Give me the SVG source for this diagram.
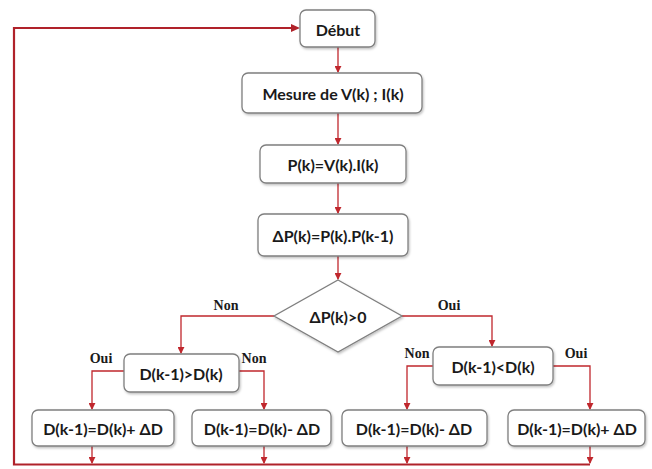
<svg xmlns="http://www.w3.org/2000/svg" width="652" height="469" viewBox="0 0 652 469">
<defs>
<marker id="ah" viewBox="0 0 8 8" refX="7" refY="4" markerWidth="7" markerHeight="7" orient="auto" markerUnits="userSpaceOnUse">
<path d="M0,0 L8,4 L0,8 z" fill="#c0272d"/>
</marker>
<filter id="sh" x="-10%" y="-10%" width="130%" height="140%">
<feDropShadow dx="1" dy="1.5" stdDeviation="1" flood-color="#000" flood-opacity="0.25"/>
</filter>
</defs>
<style>
.box{fill:#fff;stroke:#7f7f7f;stroke-width:1.3;filter:url(#sh)}
.t{font-family:Lato,"Liberation Sans",sans-serif;font-weight:bold;font-size:16px;fill:#1a1a1a;text-anchor:middle;dominant-baseline:central}
.lbl{font-family:"Liberation Serif",serif;font-weight:bold;font-size:14px;fill:#1a1a1a;text-anchor:middle}
.c{fill:none;stroke:#c0272d;stroke-width:1.3}
.cb{fill:none;stroke:#b0222a;stroke-width:2.2}
</style>
<rect width="652" height="469" fill="#fff"/>
<g id="connectors">
<path class="c" d="M338,47 V72" marker-end="url(#ah)"/>
<path class="c" d="M338,113 V144" marker-end="url(#ah)"/>
<path class="c" d="M338,183 V213" marker-end="url(#ah)"/>
<path class="c" d="M338,256 V279" marker-end="url(#ah)"/>
<path class="c" d="M274,316 H181 V353" marker-end="url(#ah)"/>
<path class="c" d="M402,316 H492 V346" marker-end="url(#ah)"/>
<path class="c" d="M124,371 H92 V409" marker-end="url(#ah)"/>
<path class="c" d="M239,371 H264 V409" marker-end="url(#ah)"/>
<path class="c" d="M433,366 H407 V409" marker-end="url(#ah)"/>
<path class="c" d="M553,366 H590 V409" marker-end="url(#ah)"/>
<path class="c" d="M92,446 V463" marker-end="url(#ah)"/>
<path class="c" d="M264,446 V463" marker-end="url(#ah)"/>
<path class="c" d="M407,446 V463" marker-end="url(#ah)"/>
<path class="c" d="M590,446 V463" marker-end="url(#ah)"/>
<path class="cb" d="M590,464.5 H14 V28 H292"/>
<path d="M291,24 L300,28 L291,32 z" fill="#b0222a"/>
<text class="lbl" x="226" y="310">Non</text>
<text class="lbl" x="449" y="310">Oui</text>
<text class="lbl" x="101" y="363">Oui</text>
<text class="lbl" x="254" y="363">Non</text>
<text class="lbl" x="417" y="358">Non</text>
<text class="lbl" x="576" y="358">Oui</text>
</g>
<g id="debut"><rect class="box" x="300" y="10" width="75" height="37" rx="6"/><text class="t" x="338" y="29">Début</text></g>
<g id="mesure"><rect class="box" x="242" y="73" width="180" height="40" rx="6"/><text class="t" x="333" y="93">Mesure de V(k) ; I(k)</text></g>
<g id="puissance"><rect class="box" x="260" y="145" width="146" height="38" rx="6"/><text class="t" x="333" y="164">P(k)=V(k).I(k)</text></g>
<g id="deltap"><rect class="box" x="258" y="214" width="150" height="42" rx="6"/><text class="t" x="333" y="235">ΔP(k)=P(k).P(k-1)</text></g>
<g id="decision"><polygon class="box" points="338,280 402,316 338,352 274,316"/><text class="t" x="338" y="316">ΔP(k)&gt;0</text></g>
<g id="cmp-gt"><rect class="box" x="124" y="354" width="115" height="38" rx="6"/><text class="t" x="181" y="373">D(k-1)&gt;D(k)</text></g>
<g id="cmp-lt"><rect class="box" x="433" y="347" width="120" height="38" rx="6"/><text class="t" x="493" y="366">D(k-1)&lt;D(k)</text></g>
<g id="inc1"><rect class="box" x="32" y="410" width="142" height="36" rx="6"/><text class="t" x="103" y="428">D(k-1)=D(k)+ ΔD</text></g>
<g id="dec1"><rect class="box" x="192" y="410" width="139" height="36" rx="6"/><text class="t" x="262" y="428">D(k-1)=D(k)- ΔD</text></g>
<g id="dec2"><rect class="box" x="342" y="410" width="145" height="36" rx="6"/><text class="t" x="414" y="428">D(k-1)=D(k)- ΔD</text></g>
<g id="inc2"><rect class="box" x="508" y="410" width="137" height="36" rx="6"/><text class="t" x="577" y="428">D(k-1)=D(k)+ ΔD</text></g>
</svg>
